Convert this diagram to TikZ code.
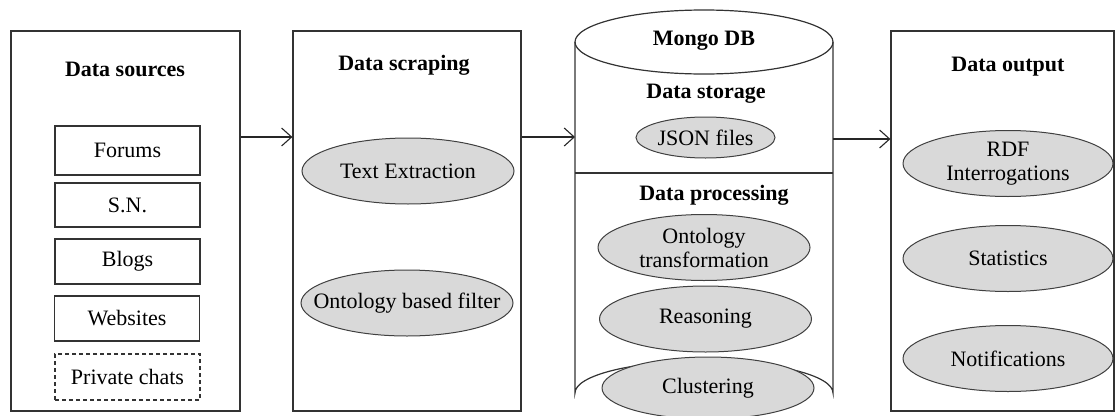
\documentclass[tikz,border=0pt]{standalone}
\usepackage{fontspec}
\setmainfont{Liberation Serif}
\usetikzlibrary{shapes.geometric,arrows.meta}
\begin{document}
\begin{tikzpicture}[x=1pt,y=-1pt,
  font=\fontsize{22}{24}\selectfont,
  frame/.style={draw=black!80, line width=1.2pt},
  panel/.style={frame, rectangle, inner sep=0pt},
  heading/.style={font=\fontsize{22}{24}\selectfont\bfseries, inner sep=0pt},
  srcbox/.style={frame, rectangle, inner sep=0pt, minimum width=145pt},
  task/.style={draw=black!75, line width=1pt, fill=black!15, ellipse, inner sep=0pt,
               minimum width=212pt, minimum height=66pt, align=center},
  flow/.style={black!85, line width=1.1pt, -{Straight Barb[length=10pt,width=18pt,line width=1.1pt]}}]
\useasboundingbox (0,0) rectangle (1115,415);

% ---- data sources
\node[panel, minimum width=229pt, minimum height=380pt] (src) at (125.5,221) {};
\node[heading] (srcT) at (125,69) {Data sources};
\node[srcbox, minimum height=49pt] (forums) at (127.5,150.5) {Forums};
\node[srcbox, minimum height=44pt] (sn) at (127.5,205) {S.N.};
\node[srcbox, minimum height=45pt] (blogs) at (127.5,261.5) {Blogs};
\node[srcbox, minimum height=45pt] (web) at (127,318.5) {Websites};
\node[srcbox, minimum height=46pt, dash pattern=on 4pt off 3pt] (chats) at (127.5,377) {Private chats};

% ---- data scraping
\node[panel, minimum width=228pt, minimum height=380pt] (scr) at (407,221) {};
\node[heading] (scrT) at (404,65) {Data scraping};
\node[task] (text) at (408,171) {Text Extraction};
\node[task, inner xsep=-36pt] (onto) at (407,303) {Ontology based filter};

% ---- Mongo DB cylinder
\draw[frame] (575,42) -- (575,393) arc[start angle=180, end angle=360, x radius=129, y radius=32]
  -- (833,42);
\draw[frame] (704,42) ellipse[x radius=129, y radius=32];
\draw[frame] (575,173) -- (833,173);
\coordinate (dbL) at (575,137);
\coordinate (dbR) at (833,139);
\node[heading] (dbT) at (704,41) {Mongo DB};
\node[heading] (stT) at (706,94) {Data storage};
\node[task, minimum width=139pt, minimum height=41pt] (json) at (705.5,137.5) {JSON files};
\node[heading] (prT) at (714,195) {Data processing};
\node[task] (otr) at (704,247.5) {Ontology\\transformation};
\node[task] (reas) at (705.5,319) {Reasoning};
\node[task, minimum height=62pt] (clus) at (708,388) {Clustering};

% ---- data output
\node[panel, minimum width=223pt, minimum height=380pt] (out) at (1002.5,221) {};
\node[heading] (outT) at (1008,67) {Data output};
\node[task, minimum width=210pt] (rdf) at (1008,163.5) {RDF\\Interrogations};
\node[task, minimum width=210pt] (stat) at (1008,258.5) {Statistics};
\node[task, minimum width=210pt] (notif) at (1008,358.5) {Notifications};

% ---- flow between stages
\draw[flow] ([yshift=84pt]src.east) -- ([yshift=84pt]scr.west);
\draw[flow] ([yshift=84pt]scr.east) -- (dbL);
\draw[flow] (dbR) -- (dbR -| out.west);
\end{tikzpicture}
\end{document}
